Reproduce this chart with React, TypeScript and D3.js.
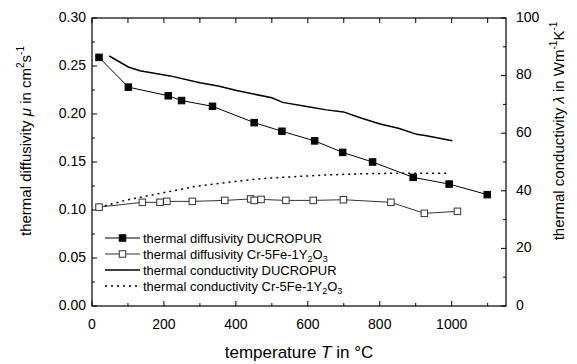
import React from "react";
import * as d3 from "d3";

const diffDucT = [19.5, 101, 212, 249, 335, 451, 528, 619, 697, 780, 893, 993, 1099];
const diffDucV = [0.259, 0.228, 0.219, 0.214, 0.208, 0.191, 0.182, 0.172, 0.160, 0.150, 0.134, 0.127, 0.116];

const diffCrT = [19.5, 140, 189, 208, 279, 369, 441, 451, 470, 539, 615, 699, 831, 924, 1016];
const diffCrV = [0.103, 0.108, 0.108, 0.109, 0.109, 0.110, 0.1115, 0.110, 0.111, 0.110, 0.110, 0.1107, 0.108, 0.0965, 0.0986];

const condDucT = [48, 101, 133, 217, 300, 351, 402, 500, 530, 601, 652, 699, 750, 801, 852, 903, 930, 1002];
const condDucV = [86.8, 83.0, 81.7, 79.9, 77.5, 76.4, 74.8, 72.3, 70.7, 69.2, 68.1, 67.4, 65.2, 63.2, 61.7, 59.6, 59.1, 57.4];

const condCrT = [19.5, 96, 189, 282, 374, 467, 560, 652, 745, 838, 993];
const condCrV = [34.3, 36.8, 39.1, 41.4, 42.9, 44.2, 44.9, 45.5, 45.9, 46.1, 46.1];

const xMajor = [0, 200, 400, 600, 800, 1000];
const xMinor = [100, 300, 500, 700, 900, 1100];
const yLeftMajor = [0, 0.05, 0.1, 0.15, 0.2, 0.25, 0.3];
const yLeftMinor = [0.025, 0.075, 0.125, 0.175, 0.225, 0.275];
const yRightMajor = [0, 20, 40, 60, 80, 100];
const yRightMinor = [10, 30, 50, 70, 90];

const FONT = "'Liberation Sans', Arial, Helvetica, sans-serif";

export default function App() {
  const W = 577, H = 364;
  const L = 92, R = 506, T = 18, B = 306;
  const x = d3.scaleLinear().domain([0, 1151]).range([L, R]);
  const yL = d3.scaleLinear().domain([0, 0.3]).range([B, T]);
  const yR = d3.scaleLinear().domain([0, 100]).range([B, T]);

  const lineL = d3.line<[number, number]>().x(d => x(d[0])).y(d => yL(d[1]));
  const lineR = d3.line<[number, number]>().x(d => x(d[0])).y(d => yR(d[1]));

  const zip = (a: number[], b: number[]) => a.map((v, i) => [v, b[i]] as [number, number]);
  const dDuc = zip(diffDucT, diffDucV);
  const dCr = zip(diffCrT, diffCrV);
  const cDuc = zip(condDucT, condDucV);
  const cCr = zip(condCrT, condCrV);

  const MAJ = 5, MIN = 3;
  const sq = 6.5;

  const legendRows = [238, 254, 270, 286];
  const lx0 = 105, lx1 = 140, tx = 143;

  return (
    <svg width={W} height={H} style={{ position: "absolute", left: 0, top: 0, background: "#fff" }} fontFamily={FONT}>
      <rect x={0} y={0} width={W} height={H} fill="#fff" />
      <rect x={L} y={T} width={R - L} height={B - T} fill="none" stroke="#000" strokeWidth={1.2} />
      {xMajor.map(v => (
        <g key={"xm" + v}>
          <line x1={x(v)} x2={x(v)} y1={B} y2={B - MAJ} stroke="#000" />
          <line x1={x(v)} x2={x(v)} y1={T} y2={T + MAJ} stroke="#000" />
          <text x={x(v)} y={325} fontSize={14} textAnchor="middle" dominantBaseline="middle">{v}</text>
        </g>
      ))}
      {xMinor.map(v => (
        <g key={"xn" + v}>
          <line x1={x(v)} x2={x(v)} y1={B} y2={B - MIN} stroke="#000" />
          <line x1={x(v)} x2={x(v)} y1={T} y2={T + MAJ} stroke="#000" />
        </g>
      ))}
      {yLeftMajor.map(v => (
        <g key={"yl" + v}>
          <line x1={L} x2={L + MAJ} y1={yL(v)} y2={yL(v)} stroke="#000" />
          <text x={86} y={yL(v)} fontSize={14} textAnchor="end" dominantBaseline="middle">{v.toFixed(2)}</text>
        </g>
      ))}
      {yLeftMinor.map(v => (
        <line key={"yln" + v} x1={L} x2={L + MIN} y1={yL(v)} y2={yL(v)} stroke="#000" />
      ))}
      {yRightMajor.map(v => (
        <g key={"yr" + v}>
          <line x1={R} x2={R - MAJ} y1={yR(v)} y2={yR(v)} stroke="#000" />
          <text x={516} y={yR(v)} fontSize={14} textAnchor="start" dominantBaseline="middle">{v}</text>
        </g>
      ))}
      {yRightMinor.map(v => (
        <line key={"yrn" + v} x1={R} x2={R - MIN} y1={yR(v)} y2={yR(v)} stroke="#000" />
      ))}

      <path d={lineR(cDuc) || ""} fill="none" stroke="#000" strokeWidth={1.5} />
      <path d={lineR(cCr) || ""} fill="none" stroke="#000" strokeWidth={1.5} strokeDasharray="2,4" />
      <path d={lineL(dCr) || ""} fill="none" stroke="#333" strokeWidth={1} />
      <path d={lineL(dDuc) || ""} fill="none" stroke="#000" strokeWidth={1} />
      {dCr.map((d, i) => (
        <rect key={"c" + i} x={x(d[0]) - sq / 2} y={yL(d[1]) - sq / 2} width={sq} height={sq} fill="#fff" stroke="#333" strokeWidth={1} />
      ))}
      {dDuc.map((d, i) => (
        <rect key={"d" + i} x={x(d[0]) - sq / 2} y={yL(d[1]) - sq / 2} width={sq} height={sq} fill="#000" stroke="#000" strokeWidth={1} />
      ))}

      <g fontSize={13}>
        <line x1={lx0} x2={lx1} y1={legendRows[0]} y2={legendRows[0]} stroke="#000" />
        <rect x={(lx0 + lx1) / 2 - sq / 2} y={legendRows[0] - sq / 2} width={sq} height={sq} fill="#000" stroke="#000" />
        <text x={tx} y={legendRows[0] + 4.5}>thermal diffusivity DUCROPUR</text>

        <line x1={lx0} x2={lx1} y1={legendRows[1]} y2={legendRows[1]} stroke="#333" />
        <rect x={(lx0 + lx1) / 2 - sq / 2} y={legendRows[1] - sq / 2} width={sq} height={sq} fill="#fff" stroke="#333" />
        <text x={tx} y={legendRows[1] + 4.5}>thermal diffusivity Cr-5Fe-1Y<tspan fontSize={9} dy={3}>2</tspan><tspan dy={-3}>O</tspan><tspan fontSize={9} dy={3}>3</tspan></text>

        <line x1={lx0} x2={lx1} y1={legendRows[2]} y2={legendRows[2]} stroke="#000" strokeWidth={1.5} />
        <text x={tx} y={legendRows[2] + 4.5}>thermal conductivity DUCROPUR</text>

        <line x1={lx0} x2={lx1} y1={legendRows[3]} y2={legendRows[3]} stroke="#000" strokeWidth={1.5} strokeDasharray="2,4" />
        <text x={tx} y={legendRows[3] + 4.5}>thermal conductivity Cr-5Fe-1Y<tspan fontSize={9} dy={3}>2</tspan><tspan dy={-3}>O</tspan><tspan fontSize={9} dy={3}>3</tspan></text>
      </g>

      <text x={299} y={358} fontSize={17} textAnchor="middle">temperature <tspan fontStyle="italic">T</tspan> in °C</text>
      <text transform="translate(31,141) rotate(-90)" fontSize={15} textAnchor="middle">
        thermal diffusivity <tspan fontStyle="italic">μ</tspan> in cm<tspan fontSize={10} dy={-7}>2</tspan><tspan dy={7}>s</tspan><tspan fontSize={10} dy={-7}>-1</tspan>
      </text>
      <text transform="translate(564,131) rotate(-90)" fontSize={15} textAnchor="middle">
        thermal conductivity <tspan fontStyle="italic">λ</tspan> in Wm<tspan fontSize={10} dy={-7}>-1</tspan><tspan dy={7}>K</tspan><tspan fontSize={10} dy={-7}>-1</tspan>
      </text>
    </svg>
  );
}
